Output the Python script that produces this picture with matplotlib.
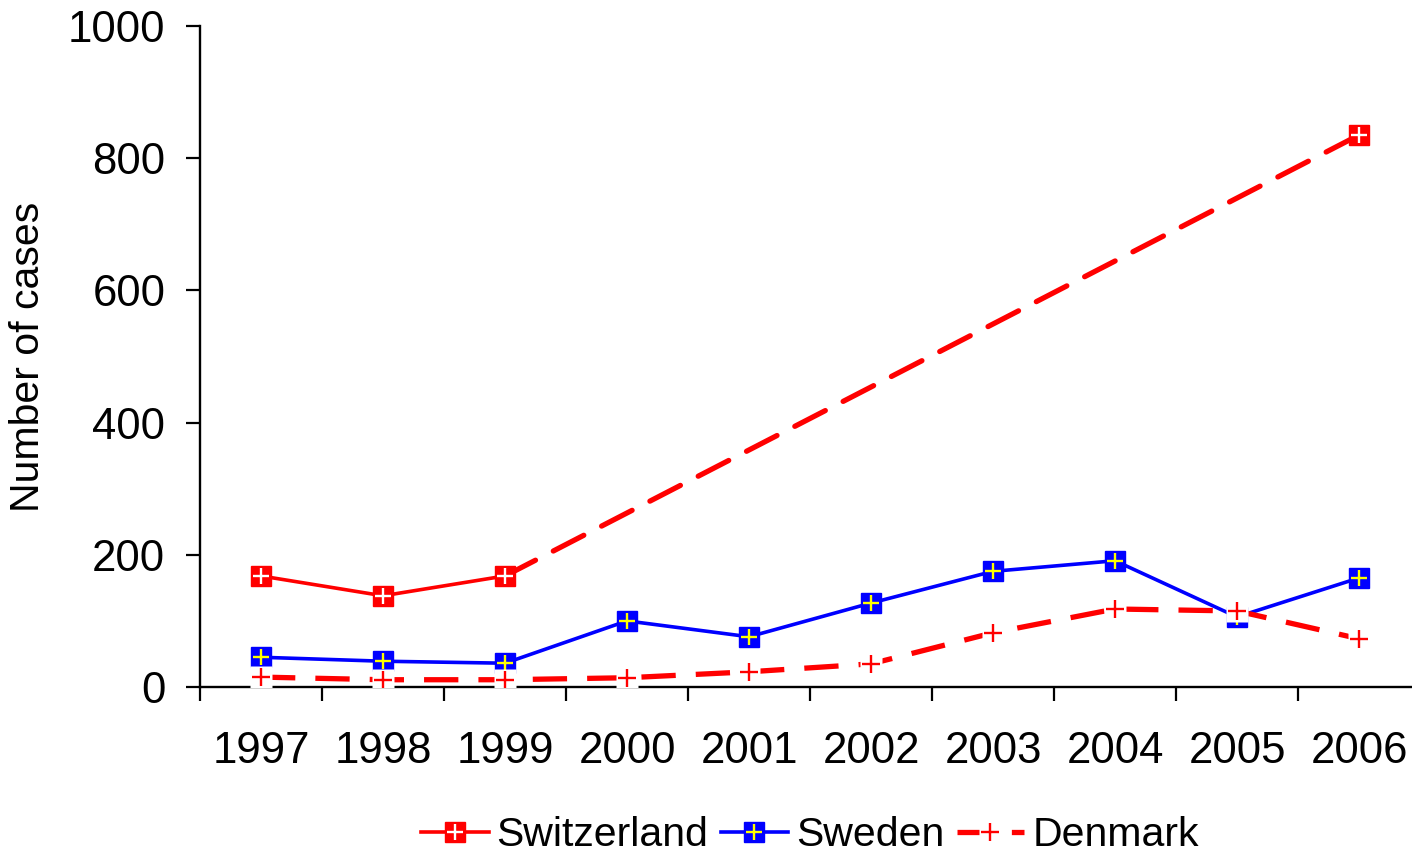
import numpy as np
import matplotlib.pyplot as plt
from matplotlib.lines import Line2D
from matplotlib.legend_handler import HandlerTuple

years = ['1997', '1998', '1999', '2000', '2001', '2002', '2003', '2004', '2005', '2006']
switzerland = [168, 138, 168, np.nan, np.nan, np.nan, np.nan, np.nan, np.nan, 835]
sweden = [45, 39, 36, 100, 76, 127, 175, 191, 106, 165]
denmark = [15, 11, 11, 14, 23, 35, 82, 118, 115, 73]

RED = '#FF0000'
BLUE = '#0000FF'
YELLOW = '#FFFF00'

plt.rcParams['font.family'] = ['Liberation Sans', 'DejaVu Sans']
plt.rcParams['font.size'] = 29.5

fig = plt.figure(figsize=(14.12, 8.56), dpi=100)
ax = fig.add_axes([200 / 1412, 169 / 856, 1220 / 1412, 661 / 856])

x = np.arange(len(years))
sw = np.array(switzerland, dtype=float)
se = np.array(sweden, dtype=float)
dk = np.array(denmark, dtype=float)

# Switzerland: solid where years are consecutive, dashed across the missing years
ax.plot(x, sw, color=RED, lw=2.6, zorder=2)
idx = np.where(~np.isnan(sw))[0]
for a, b in zip(idx[:-1], idx[1:]):
    if b - a > 1:
        ax.plot([x[a], x[b]], [sw[a], sw[b]], color=RED, lw=3.8,
                dashes=(6.5, 3.8), dash_capstyle='round', zorder=2)
ax.plot(x, sw, ls='none', marker='s', ms=14.5, mfc=RED, mec=RED, zorder=3)
ax.plot(x, sw, ls='none', marker='+', ms=11, mew=1.7, color='white', zorder=3.5)

# Sweden
ax.plot(x, se, color=BLUE, lw=2.6, zorder=2)
ax.plot(x, se, ls='none', marker='s', ms=14.5, mfc=BLUE, mec=BLUE, zorder=3)
ax.plot(x, se, ls='none', marker='+', ms=12, mew=1.7, color=YELLOW, zorder=3.5)

# Denmark
ax.plot(x, dk, color=RED, lw=3.8, dashes=(6.5, 3.8), zorder=2)
ax.plot(x, dk, ls='none', marker='s', ms=16, mfc='white', mec='none', zorder=4)
ax.plot(x, dk, ls='none', marker='+', ms=13, mew=1.7, color=RED, zorder=5)

ax.set_xlim(-0.5, len(years) - 0.5)
ax.set_ylim(0, 1000)
ax.set_yticks([0, 200, 400, 600, 800, 1000])
ax.set_xticks(x)
ax.set_xticklabels(years)
ax.set_xticks(np.arange(-0.5, len(years), 1.0), minor=True)
ax.tick_params(axis='x', which='major', length=0, pad=32, labelsize=31.5)
ax.tick_params(axis='x', which='minor', length=10, width=1.6, direction='out')
ax.tick_params(axis='y', length=10, width=1.6, pad=15, direction='out', labelsize=31.5)

for side in ['top', 'right']:
    ax.spines[side].set_visible(False)
for side in ['left', 'bottom']:
    ax.spines[side].set_linewidth(1.7)

ax.set_ylabel('Number of cases')
ax.yaxis.set_label_coords(-0.141, 0.5)
ax.yaxis.label.set_va('center')

h_sw = (Line2D([], [], color=RED, lw=2.6, marker='s', ms=14.5, mfc=RED, mec=RED),
        Line2D([], [], ls='none', marker='+', ms=11, mew=1.7, color='white'))
h_se = (Line2D([], [], color=BLUE, lw=2.6, marker='s', ms=14.5, mfc=BLUE, mec=BLUE),
        Line2D([], [], ls='none', marker='+', ms=12, mew=1.7, color=YELLOW))
h_dk = (Line2D([], [], color=RED, lw=3.8, dashes=(6.5, 3.8)),
        Line2D([], [], ls='none', marker='s', ms=16, mfc='white', mec='none'),
        Line2D([], [], ls='none', marker='+', ms=13, mew=1.7, color=RED))

ax.legend([h_sw, h_se, h_dk], ['Switzerland', 'Sweden', 'Denmark'],
          handler_map={tuple: HandlerTuple(ndivide=1)},
          loc='center', bbox_to_anchor=(0.5, -0.224), ncol=3, frameon=False,
          handlelength=1.64, handletextpad=0.2, columnspacing=0.3,
          borderpad=0, borderaxespad=0)

fig.savefig('out.png', dpi=100)
